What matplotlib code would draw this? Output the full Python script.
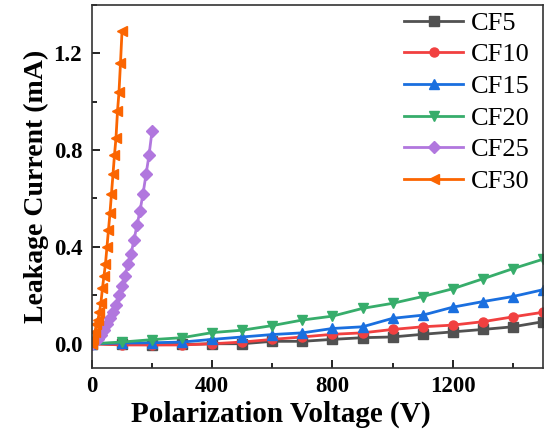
import numpy as np
import matplotlib
matplotlib.use("Agg")
import matplotlib.pyplot as plt
from matplotlib.ticker import MultipleLocator

plt.rcParams['font.family'] = ['Liberation Serif', 'DejaVu Serif']

# Data
v_low = [0, 100, 200, 300, 400, 500, 600, 700, 800, 900, 1000, 1100, 1200, 1300, 1400, 1500]
cf5 = [0.0, -0.003, -0.004, -0.003, 0.0, 0.0, 0.01, 0.01, 0.018, 0.025, 0.028, 0.039, 0.049, 0.059, 0.07, 0.091]
cf10 = [0.0, -0.005, -0.005, -0.005, 0.0, 0.007, 0.018, 0.028, 0.039, 0.045, 0.059, 0.07, 0.077, 0.091, 0.111, 0.13]
cf15 = [0.0, 0.003, 0.004, 0.007, 0.018, 0.028, 0.038, 0.045, 0.063, 0.07, 0.105, 0.118, 0.151, 0.174, 0.195, 0.223]
cf20 = [0.0, 0.007, 0.017, 0.025, 0.046, 0.056, 0.075, 0.098, 0.114, 0.146, 0.167, 0.195, 0.227, 0.268, 0.31, 0.349]

v_cf25 = [0, 10, 20, 30, 40, 50, 60, 70, 80, 90, 100, 110, 120, 130, 140, 150, 160, 170, 180, 190, 200]
cf25 = [0.0, 0.01, 0.02, 0.035, 0.058, 0.082, 0.105, 0.13, 0.16, 0.2, 0.24, 0.28, 0.33, 0.37, 0.43, 0.49, 0.55, 0.62, 0.70, 0.78, 0.88]

v_cf30 = [0, 5, 10, 15, 20, 25, 30, 35, 40, 45, 50, 55, 60, 65, 70, 75, 80, 85, 90, 95, 100]
cf30 = [0.0, 0.02, 0.05, 0.08, 0.10, 0.13, 0.17, 0.23, 0.28, 0.33, 0.40, 0.47, 0.54, 0.62, 0.70, 0.78, 0.85, 0.96, 1.04, 1.16, 1.29]

labels = ['CF5', 'CF10', 'CF15', 'CF20', 'CF25', 'CF30']
colors = ['#515151', '#F14040', '#1A6FDF', '#37AD6B', '#B177DE', '#FB6501']
markers = ['s', 'o', '^', 'v', 'D', '<']

xs = [v_low, v_low, v_low, v_low, v_cf25, v_cf30]
ys = [cf5, cf10, cf15, cf20, cf25, cf30]

fig = plt.figure(figsize=(5.44, 4.37), dpi=100)
ax = fig.add_axes([0.169, 0.158, 0.829, 0.831])

for x, y, lab, c, m in zip(xs, ys, labels, colors, markers):
    ax.plot(x, y, color=c, marker=m, markersize=6.5, linewidth=2, label=lab)

ax.set_xlim(0, 1500)
ax.set_ylim(-0.1, 1.4)
ax.xaxis.set_major_locator(MultipleLocator(400))
ax.xaxis.set_minor_locator(MultipleLocator(200))
ax.yaxis.set_major_locator(MultipleLocator(0.4))
ax.yaxis.set_minor_locator(MultipleLocator(0.2))
ax.yaxis.set_major_formatter(matplotlib.ticker.FormatStrFormatter('%.1f'))
ax.tick_params(which='major', direction='in', length=6, width=1.2, labelsize=16.5)
ax.tick_params(axis='x', which='major', pad=6)
ax.tick_params(axis='y', which='major', pad=7)
ax.tick_params(which='minor', direction='in', length=3.5, width=1.2)
for lbl in ax.get_xticklabels() + ax.get_yticklabels():
    lbl.set_fontweight('bold')
for s in ax.spines.values():
    s.set_linewidth(1.2)
    s.set_color('#333333')

ax.set_xlabel('Polarization Voltage (V)', fontsize=21, fontweight='bold')
ax.xaxis.set_label_coords(0.419, -0.09)
ax.set_ylabel('Leakage Current (mA)', fontsize=20, fontweight='bold')
ax.yaxis.set_label_coords(-0.095, 0.5)

ax.legend(loc='upper right', bbox_to_anchor=(0.993, 1.011), frameon=False, fontsize=19,
          handlelength=2.2, labelspacing=0.31, handletextpad=0.3, borderaxespad=0.3,
          borderpad=0.1)

fig.savefig('out.png', dpi=100)
